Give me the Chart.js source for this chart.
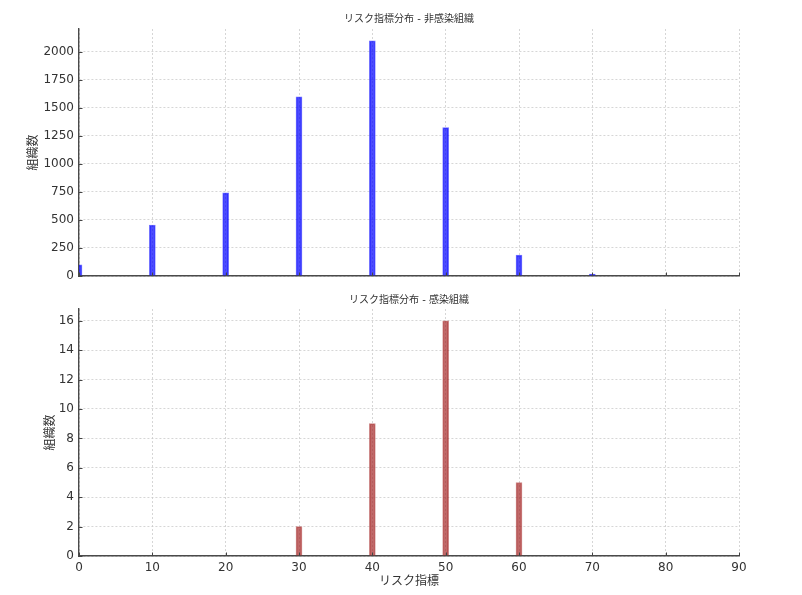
<!DOCTYPE html>
<html>
<head>
<meta charset="utf-8">
<script src="https://cdn.jsdelivr.net/npm/chart.js@4/dist/chart.umd.min.js"></script>
<style>
  html, body { margin: 0; padding: 0; background: #fff; }
  #wrap { position: relative; width: 802px; height: 595px; }
  canvas { position: absolute; left: 0; }
  #c1 { top: 0; }
  #c2 { top: 290px; }
</style>
</head>
<body>
<div id="wrap">
  <canvas id="c1" width="802" height="290"></canvas>
  <canvas id="c2" width="802" height="305"></canvas>
</div>
<script>
// ---- data ----
const riskBins = [0, 10, 20, 30, 40, 50, 60, 70];
const nonInfectedCounts = [100, 455, 742, 1600, 2100, 1325, 186, 18];
const infectedBins = [30, 40, 50, 60];
const infectedCounts = [2, 9, 16, 5];
const xTicks = [0, 10, 20, 30, 40, 50, 60, 70, 80, 90];
const topYTicks = [0, 250, 500, 750, 1000, 1250, 1500, 1750, 2000];
const bottomYTicks = [0, 2, 4, 6, 8, 10, 12, 14, 16];
const titles = {
  top: 'リスク指標分布 - 非感染組織',
  bottom: 'リスク指標分布 - 感染組織',
  x: 'リスク指標',
  y: '組織数'
};

const FONT = '"DejaVu Sans", "Noto Sans CJK JP", sans-serif';
const TEXT = '#333333';
const GRID = 'rgba(200,200,200,0.75)';
const AXIS = '#4a4a4a';

// inward tick marks (matplotlib "in" direction)
const inwardTicks = {
  id: 'inwardTicks',
  afterDatasetsDraw(chart) {
    const ctx = chart.ctx;
    const area = chart.chartArea;
    ctx.save();
    ctx.strokeStyle = '#444';
    ctx.lineWidth = 1;
    const xs = chart.scales.x, ys = chart.scales.y;
    ctx.beginPath();
    xs.ticks.forEach(t => {
      const px = Math.round(xs.getPixelForValue(t.value)) + 0.5;
      ctx.moveTo(px, area.bottom);
      ctx.lineTo(px, area.bottom - 3.5);
    });
    ys.ticks.forEach(t => {
      const py = Math.round(ys.getPixelForValue(t.value)) + 0.5;
      ctx.moveTo(area.left, py);
      ctx.lineTo(area.left + 3.5, py);
    });
    ctx.stroke();
    ctx.restore();
  }
};

// title centred over the plot area
const areaTitle = {
  id: 'areaTitle',
  afterDraw(chart, args, opts) {
    const ctx = chart.ctx;
    const area = chart.chartArea;
    ctx.save();
    ctx.fillStyle = TEXT;
    ctx.font = '10px ' + FONT;
    ctx.textAlign = 'center';
    ctx.textBaseline = 'middle';
    ctx.fillText(opts.text, (area.left + area.right) / 2, opts.y);
    ctx.restore();
  }
};

function makeChart(id, cfg) {
  const data = cfg.bins.map((b, i) => ({ x: b, y: cfg.values[i] }));
  return new Chart(document.getElementById(id), {
    type: 'bar',
    data: {
      datasets: [{
        data: data,
        backgroundColor: cfg.fill,
        borderColor: cfg.edge,
        borderWidth: 1,
        barThickness: 6,
        clip: 0
      }]
    },
    options: {
      responsive: false,
      animation: false,
      devicePixelRatio: 1,
      layout: { padding: { left: 0, right: 63, top: cfg.topPad, bottom: 0 } },
      plugins: {
        legend: { display: false },
        tooltip: { enabled: false },
        title: { display: false },
        areaTitle: { text: cfg.title, y: cfg.titleY }
      },
      scales: {
        x: {
          type: 'linear',
          min: 0,
          max: 90,
          offset: false,
          afterBuildTicks: s => { s.ticks = xTicks.map(v => ({ value: v })); },
          afterFit: s => { s.height = cfg.xHeight; },
          grid: { offset: false, color: GRID, lineWidth: 1, drawTicks: false },
          border: { display: true, color: AXIS, width: 1.4, dash: [2, 2] },
          ticks: {
            display: cfg.showX,
            color: TEXT,
            padding: 5,
            maxRotation: 0,
            autoSkip: false,
            font: { family: FONT, size: 12 },
            callback: v => String(v)
          },
          title: {
            display: cfg.showX,
            text: titles.x,
            color: TEXT,
            font: { family: FONT, size: 12 },
            padding: { top: 0, bottom: 6 }
          }
        },
        y: {
          type: 'linear',
          min: 0,
          max: cfg.yMax,
          afterBuildTicks: s => { s.ticks = cfg.yTicks.map(v => ({ value: v })); },
          afterFit: s => { s.width = 79; },
          grid: { color: GRID, lineWidth: 1, drawTicks: false },
          border: { display: true, color: AXIS, width: 1.4, dash: [2, 2] },
          ticks: {
            color: TEXT,
            padding: 5,
            font: { family: FONT, size: 12 },
            callback: v => String(v)
          },
          title: {
            display: true,
            text: titles.y,
            color: TEXT,
            font: { family: FONT, size: 12 },
            padding: { top: cfg.yTitlePad, bottom: 0 }
          }
        }
      }
    },
    plugins: [inwardTicks, areaTitle]
  });
}

makeChart('c1', {
  bins: riskBins,
  values: nonInfectedCounts,
  fill: 'rgba(0,0,255,0.7)',
  edge: 'rgba(0,0,255,0.55)',
  title: titles.top,
  titleY: 19,
  topPad: 29,
  xHeight: 14,
  showX: false,
  yMax: 2205,
  yTicks: topYTicks,
  yTitlePad: 27
});

makeChart('c2', {
  bins: infectedBins,
  values: infectedCounts,
  fill: 'rgba(165,42,42,0.7)',
  edge: 'rgba(165,42,42,0.55)',
  title: titles.bottom,
  titleY: 10,
  topPad: 19,
  xHeight: 39,
  showX: true,
  yMax: 16.8,
  yTicks: bottomYTicks,
  yTitlePad: 44
});
</script>
</body>
</html>
